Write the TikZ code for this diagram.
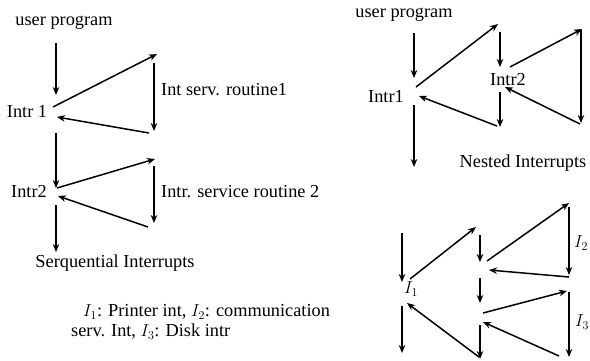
\documentclass[tikz,border=0pt]{standalone}
\usepackage{fontspec}
\setmainfont{Liberation Serif}
\usetikzlibrary{arrows.meta}
\tikzset{
  arr/.style={-{Stealth[length=8pt,width=6.5pt,inset=2.5pt]}, line width=1.5pt},
  lbl/.style={inner sep=0pt, font=\fontsize{18.3}{22}\selectfont},
}
\begin{document}
\begin{tikzpicture}[x=1pt,y=-1pt]
\useasboundingbox (0,0) rectangle (590,360);

% ---- sequential interrupts ----
\node[lbl] (up1) at (64,23) {user program};
\node[lbl] (i1) at (27,112) {Intr 1};
\node[lbl, anchor=west] (r1) at (161,90) {Int serv. routine1};
\node[lbl] (i2) at (29,192) {Intr2};
\node[lbl, anchor=west] (r2) at (161,192) {Intr. service routine 2};
\node[lbl] (seq) at (115,263) {Serquential Interrupts};

\coordinate (s1a) at (56,43);   \coordinate (s1b) at (56,95);
\coordinate (s2a) at (53,107);  \coordinate (s2b) at (157,54);
\coordinate (s3a) at (154,63);  \coordinate (s3b) at (154,131);
\coordinate (s4a) at (149,133); \coordinate (s4b) at (57,117);
\coordinate (s5a) at (56,133);  \coordinate (s5b) at (56,188);
\coordinate (s6a) at (57,188);  \coordinate (s6b) at (155,159);
\coordinate (s7a) at (154,166); \coordinate (s7b) at (154,223);
\coordinate (s8a) at (148,227); \coordinate (s8b) at (58,196);
\coordinate (s9a) at (56,205);  \coordinate (s9b) at (56,252);
\foreach \k in {1,...,9} \draw[arr] (s\k a) -- (s\k b);

% ---- nested interrupts ----
\node[lbl] (up2) at (404,15) {user program};
\node[lbl] (n1) at (386,97) {Intr1};
\node[lbl] (n2) at (508,80) {Intr2};
\node[lbl] (nest) at (523,163) {Nested Interrupts};

\coordinate (n1a) at (414,33);  \coordinate (n1b) at (414,78);
\coordinate (n2a) at (416,87);  \coordinate (n2b) at (498,24);
\coordinate (n3a) at (500,32);  \coordinate (n3b) at (500,67);
\coordinate (n4a) at (510,67);  \coordinate (n4b) at (582,29);
\coordinate (n5a) at (581,30);  \coordinate (n5b) at (581,123);
\coordinate (n6a) at (580,124); \coordinate (n6b) at (505,87);
\coordinate (n7a) at (500,92);  \coordinate (n7b) at (500,127);
\coordinate (n8a) at (497,126); \coordinate (n8b) at (419,96);
\coordinate (n9a) at (414,105); \coordinate (n9b) at (414,167);
\foreach \k in {1,...,9} \draw[arr] (n\k a) -- (n\k b);

% ---- interrupts with priorities ----
\node[lbl] (p1) at (411,289) {$I_1$};
\node[lbl, anchor=west] (p2) at (574,243) {$I_2$};
\node[lbl, anchor=west] (p3) at (575,322) {$I_3$};

\coordinate (q1a) at (402,233);  \coordinate (q1b) at (402,282);
\coordinate (q2a) at (410,279);  \coordinate (q2b) at (476,227);
\coordinate (q3a) at (480,235);  \coordinate (q3b) at (480,262);
\coordinate (q4a) at (487,261);  \coordinate (q4b) at (569,203);
\coordinate (q5a) at (569,207);  \coordinate (q5b) at (569,275);
\coordinate (q6a) at (569,277);  \coordinate (q6b) at (489,270);
\coordinate (q7a) at (480,278);  \coordinate (q7b) at (480,303);
\coordinate (q8a) at (483,313);  \coordinate (q8b) at (567,291);
\coordinate (q9a) at (569,292);  \coordinate (q9b) at (569,357);
\coordinate (q10a) at (559,356); \coordinate (q10b) at (483,322);
\coordinate (q11a) at (480,325); \coordinate (q11b) at (480,359);
\coordinate (q12a) at (479,357); \coordinate (q12b) at (407,303);
\coordinate (q13a) at (402,306); \coordinate (q13b) at (402,353);
\foreach \k in {1,...,13} \draw[arr] (q\k a) -- (q\k b);

% ---- legend ----
\node[lbl, anchor=west] (leg1) at (83,312) {$I_1$: Printer int, $I_2$: communication};
\node[lbl, anchor=west] (leg2) at (71,332) {serv. Int, $I_3$: Disk intr};
\end{tikzpicture}
\end{document}
